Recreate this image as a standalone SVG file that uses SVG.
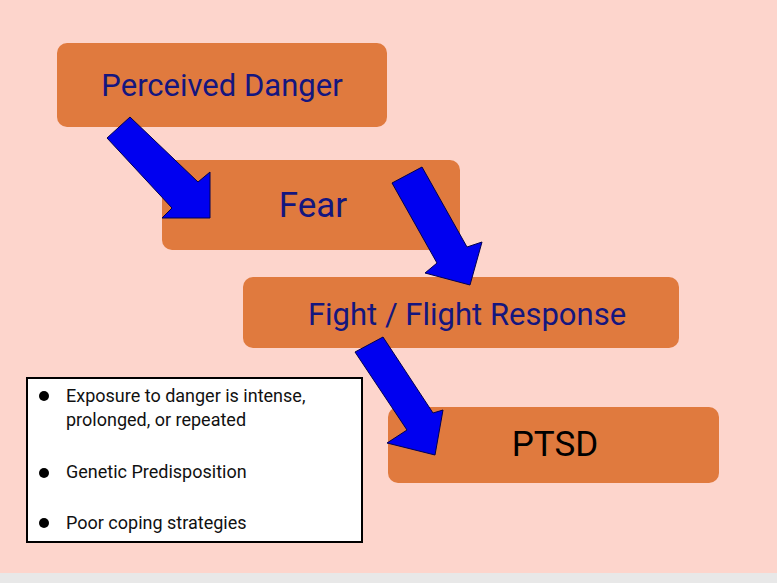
<svg xmlns="http://www.w3.org/2000/svg" width="777" height="583" viewBox="0 0 777 583">
<style>
.box{fill:#e07a3e}
.t{font-family:Roboto,"Liberation Sans",sans-serif;fill:#14167f;text-anchor:middle}
.arr{fill:#0000f0;stroke:#000050;stroke-width:1}
.li{font-family:Roboto,"Liberation Sans",sans-serif;font-size:18px;fill:#111}
</style>
<rect width="777" height="583" fill="#fdd5cc"/>
<rect y="573" width="777" height="10" fill="#e8e8e8"/>
<g id="n1"><rect class="box" x="57" y="43" width="330" height="84" rx="10"/><text class="t" x="222" y="96" font-size="31">Perceived Danger</text></g>
<g id="n2"><rect class="box" x="162" y="160" width="298" height="90" rx="10"/><text class="t" x="313" y="217" font-size="35">Fear</text></g>
<g id="n3"><rect class="box" x="243" y="277" width="436" height="71" rx="10"/><text class="t" x="467" y="325" font-size="31">Fight / Flight Response</text></g>
<g id="n4"><rect class="box" x="388" y="407" width="331" height="76" rx="10"/><text class="t" x="555" y="456" font-size="35" style="fill:#000">PTSD</text></g>
<g id="notes"><rect x="27" y="378" width="335" height="164" fill="#fff" stroke="#000" stroke-width="2"/>
<circle cx="44" cy="396" r="5" fill="#000"/><circle cx="44" cy="473" r="5" fill="#000"/><circle cx="44" cy="523" r="5" fill="#000"/>
<text class="li" x="66" y="402">Exposure to danger is intense,</text>
<text class="li" x="66" y="426">prolonged, or repeated</text>
<text class="li" x="66" y="478">Genetic Predisposition</text>
<text class="li" x="66" y="529">Poor coping strategies</text></g>
<g id="connectors">
<polygon class="arr" points="107,138 130,117 198,182 210,172 210,218 162,218 172,208"/>
<polygon class="arr" points="392,183 422,167 467,247 482,242 470,285 425,273 437,263"/>
<polygon class="arr" points="355,352 383,337 433,413 443,410 435,455 387,443 407,430"/>
</g>
</svg>
